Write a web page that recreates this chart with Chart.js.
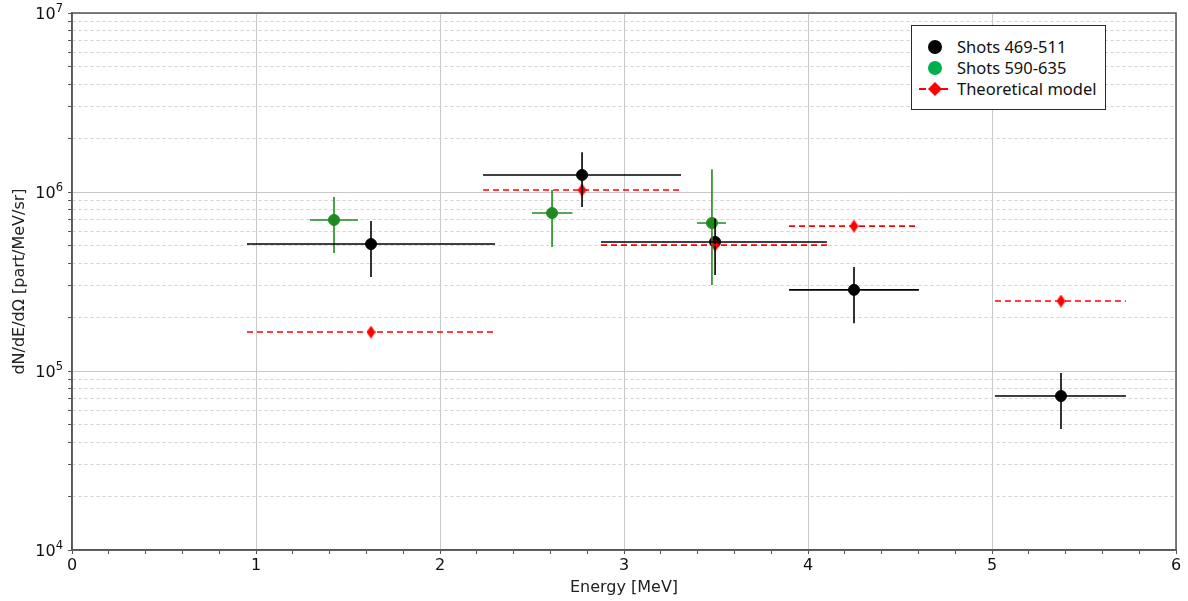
<!DOCTYPE html>
<html>
<head>
<meta charset="utf-8">
<script src="https://cdn.jsdelivr.net/npm/chart.js@4/dist/chart.umd.min.js"></script>
<style>
    body { margin: 0; background: #fff; }
    .wrap { position: relative; width: 1188px; height: 601px; }
    .legend {
        position: absolute; left: 911px; top: 25px; width: 193px; height: 83px;
        border: 1.5px solid #1d2b3a; background: #fff;
        font-family: "Noto Sans", sans-serif; font-size: 16.5px; color: #111;
    }
    .legend .row { position: absolute; left: 0; height: 20px; line-height: 20px; }
    .legend .txt { position: absolute; left: 45px; white-space: nowrap; }
    .legend .dot { position: absolute; left: 16px; top: 3px; width: 14px; height: 14px; border-radius: 50%; }
    .legend svg { position: absolute; left: 6px; top: 0; }
</style>
</head>
<body>
<div class="wrap">
    <canvas id="chart" width="1188" height="601"></canvas>
    <div class="legend">
        <div class="row" style="top: 11px;"><span class="dot" style="background:#000;"></span><span class="txt">Shots 469-511</span></div>
        <div class="row" style="top: 32px;"><span class="dot" style="background:#00b050;"></span><span class="txt">Shots 590-635</span></div>
        <div class="row" style="top: 53px;">
            <svg width="34" height="20"><line x1="1" y1="10" x2="33" y2="10" stroke="#ff0000" stroke-width="2" stroke-dasharray="7,4"/><polygon points="17,3 24,10 17,17 10,10" fill="#ff0000"/></svg>
            <span class="txt">Theoretical model</span>
        </div>
    </div>
</div>
<script>
    // bin edges shared by both measurement and model (MeV)
    const binLo = [0.951, 2.234, 2.875, 3.897, 5.016];
    const binHi = [2.299, 3.310, 4.103, 4.603, 5.728];

    // Shots 469-511
    const blackX = [1.625, 2.772, 3.495, 4.250, 5.375];
    const blackY = [5.12e5, 1.245e6, 5.26e5, 2.84e5, 7.25e4];
    const blackYLo = [3.35e5, 8.25e5, 3.44e5, 1.85e5, 4.74e4];
    const blackYHi = [6.88e5, 1.67e6, 7.10e5, 3.81e5, 9.75e4];

    // Shots 590-635
    const greenX = [1.424, 2.609, 3.478];
    const greenY = [6.98e5, 7.63e5, 6.71e5];
    const greenXLo = [1.293, 2.500, 3.397];
    const greenXHi = [1.554, 2.720, 3.554];
    const greenYLo = [4.56e5, 4.93e5, 3.02e5];
    const greenYHi = [9.37e5, 1.026e6, 1.34e6];

    // Theoretical model
    const modelX = [1.625, 2.772, 3.495, 4.250, 5.375];
    const modelY = [1.65e5, 1.026e6, 5.05e5, 6.45e5, 2.46e5];

    const yTickValues = [1e4, 1e5, 1e6, 1e7];
    const yTickExp = ['4', '5', '6', '7'];
    const xTickLabels = ['0', '1', '2', '3', '4', '5', '6'];

    const BLACK = '#000000';
    const GREEN = '#1f8a1f';
    const RED = '#ff0000';

    function hSegs(lo, hi, y) {
        return y.flatMap((v, i) => [{x: lo[i], y: v}, {x: hi[i], y: v}, {x: null, y: null}]);
    }
    function vSegs(x, lo, hi) {
        return x.flatMap((v, i) => [{x: v, y: lo[i]}, {x: v, y: hi[i]}, {x: null, y: null}]);
    }
    function pts(x, y) {
        return x.map((v, i) => ({x: v, y: y[i]}));
    }

    // thin diamond marker like matplotlib 'd'
    const diamond = document.createElement('canvas');
    diamond.width = 9; diamond.height = 13;
    (function() {
        const c = diamond.getContext('2d');
        c.fillStyle = RED;
        c.beginPath();
        c.moveTo(4.5, 0); c.lineTo(9, 6.5); c.lineTo(4.5, 13); c.lineTo(0, 6.5);
        c.closePath(); c.fill();
    })();

    // all y ticks: decades + minor 2..9
    const yAllTicks = [];
    for (let e = 4; e < 7; e++) {
        for (let m = 1; m < 10; m++) yAllTicks.push(m * Math.pow(10, e));
    }
    yAllTicks.push(1e7);

    function isDecade(v) {
        return yTickValues.some(t => Math.abs(t - v) / t < 1e-6);
    }

    const lineDs = (data, color, dash) => ({
        data: data, showLine: true, borderColor: color, borderWidth: 1.6,
        borderDash: dash || [], pointRadius: 0, pointHoverRadius: 0, spanGaps: false
    });

    // plot frame + "10^n" labels with a real superscript
    const framePlugin = {
        id: 'frame',
        afterDraw(chart) {
            const a = chart.chartArea, ctx = chart.ctx;
            const y = chart.scales.y;
            ctx.save();
            ctx.strokeStyle = '#555';
            ctx.lineWidth = 1.5;
            ctx.strokeRect(a.left, a.top, a.right - a.left, a.bottom - a.top);

            ctx.fillStyle = '#111';
            ctx.textBaseline = 'alphabetic';
            const right = a.left - 9;
            yTickValues.forEach((v, i) => {
                const py = y.getPixelForValue(v);
                ctx.font = '11.5px "DejaVu Sans"';
                const sw = ctx.measureText(yTickExp[i]).width;
                ctx.textAlign = 'left';
                ctx.fillText(yTickExp[i], right - sw, py - 1);
                ctx.font = '16px "DejaVu Sans"';
                ctx.textAlign = 'right';
                ctx.fillText('10', right - sw, py + 6);
            });
            ctx.restore();
        }
    };

    new Chart(document.getElementById('chart'), {
        type: 'scatter',
        data: {
            datasets: [
                lineDs(hSegs(binLo, binHi, modelY), RED, [6, 4]),
                lineDs(hSegs(binLo, binHi, blackY), BLACK),
                lineDs(vSegs(blackX, blackYLo, blackYHi), BLACK),
                lineDs(hSegs(greenXLo, greenXHi, greenY), GREEN),
                lineDs(vSegs(greenX, greenYLo, greenYHi), GREEN),
                {
                    data: pts(modelX, modelY), pointStyle: diamond, pointRadius: 6,
                    backgroundColor: RED, borderColor: RED
                },
                {
                    data: pts(blackX, blackY), pointRadius: 5.5,
                    backgroundColor: BLACK, borderColor: BLACK
                },
                {
                    data: pts(greenX, greenY), pointRadius: 5.5,
                    backgroundColor: GREEN, borderColor: GREEN
                }
            ]
        },
        options: {
            responsive: false,
            animation: false,
            layout: { padding: { top: 13, right: 12, left: 0, bottom: 0 } },
            plugins: {
                legend: { display: false },
                tooltip: { enabled: false }
            },
            scales: {
                x: {
                    type: 'linear',
                    min: 0, max: 6,
                    afterFit: s => { s.height = 51; },
                    afterBuildTicks: s => {
                        const t = [];
                        for (let i = 0; i <= 30; i++) t.push({value: i / 5});
                        s.ticks = t;
                    },
                    ticks: {
                        autoSkip: false,
                        maxRotation: 0,
                        padding: 2,
                        color: '#111',
                        font: { family: 'DejaVu Sans', size: 16 },
                        callback: v => {
                            const r = Math.round(v);
                            return Math.abs(v - r) < 1e-6 ? xTickLabels[r] : '';
                        }
                    },
                    grid: {
                        tickLength: 4,
                        color: c => (c.tick && Math.abs(c.tick.value - Math.round(c.tick.value)) < 1e-6) ? '#c8c8c8' : 'rgba(0,0,0,0)',
                        tickColor: '#555',
                        lineWidth: 1
                    },
                    border: { color: '#555', width: 1.5 },
                    title: {
                        display: true, text: 'Energy [MeV]', color: '#222',
                        font: { family: 'DejaVu Sans', size: 16 },
                        padding: { top: 0, bottom: 4 }
                    }
                },
                y: {
                    type: 'logarithmic',
                    min: 1e4, max: 1e7,
                    afterFit: s => { s.width = 72; },
                    afterBuildTicks: s => { s.ticks = yAllTicks.map(v => ({value: v})); },
                    ticks: {
                        autoSkip: false,
                        padding: 3,
                        callback: () => ''
                    },
                    grid: {
                        tickLength: 4,
                        color: c => (c.tick && isDecade(c.tick.value)) ? '#c8c8c8' : '#d2d2d2',
                        tickColor: '#555',
                        lineWidth: 1
                    },
                    border: {
                        color: '#555', width: 1.5,
                        dash: c => (c.tick && !isDecade(c.tick.value)) ? [3, 3] : []
                    },
                    title: {
                        display: true, text: 'dN/dE/d\u03A9 [part/MeV/sr]', color: '#222',
                        font: { family: 'DejaVu Sans', size: 16 },
                        padding: { top: 10, bottom: 0 }
                    }
                }
            }
        },
        plugins: [framePlugin]
    });
</script>
</body>
</html>
